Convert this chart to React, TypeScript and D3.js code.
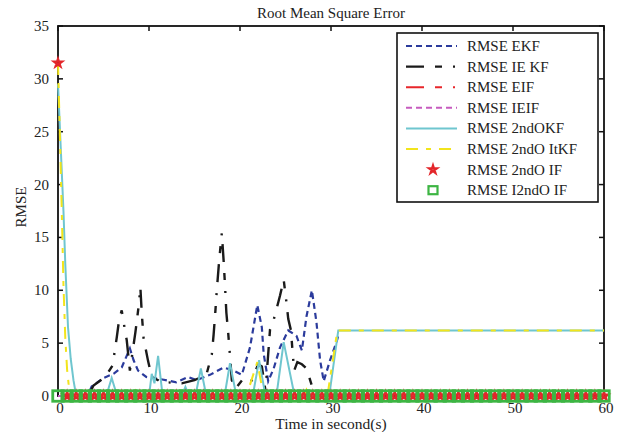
import React from 'react';
import * as d3 from 'd3';

// chart size
const width = 618;
const height = 432;

// axis ticks
const xTicks = [0, 10, 20, 30, 40, 50, 60];
const yTicks = [0, 5, 10, 15, 20, 25, 30, 35];

const legendLabels = [
  'RMSE EKF',
  'RMSE IE KF',
  'RMSE EIF',
  'RMSE IEIF',
  'RMSE 2ndOKF',
  'RMSE 2ndO ItKF',
  'RMSE 2ndO IF',
  'RMSE I2ndO IF',
];

// [time, rmse]
const ekf = [
  [3.5, 0.5], [3.7, 0.9], [5.0, 1.7], [6.1, 2.1], [7.0, 2.7], [7.9, 4.5], [8.3, 3.4],
  [8.8, 2.4], [9.7, 1.8], [11.2, 1.6], [13.0, 1.3], [14.3, 1.8], [15.2, 1.5], [16.7, 2.0],
  [18.2, 2.7], [19.3, 2.4], [20.2, 2.0], [21.1, 4.6], [21.9, 8.6], [22.4, 6.5], [22.6, 4.0],
  [23.1, 1.4], [23.7, 2.6], [24.4, 4.6], [25.3, 6.2], [26.2, 5.7], [26.8, 4.3], [27.3, 7.5],
  [27.9, 10.0], [28.4, 7.0], [28.8, 3.4], [29.2, 1.4], [29.9, 3.4], [30.6, 5.1], [30.9, 6.0],
];

const iekf = [
  [3.5, 0.3], [3.9, 1.0], [5.2, 1.8], [6.0, 2.9], [6.45, 5.5], [6.7, 7.1], [7.0, 8.1],
  [7.4, 6.0], [7.55, 5.3], [7.9, 2.4], [8.5, 6.0], [8.65, 7.0], [8.9, 8.8], [9.05, 10.3],
  [9.2, 7.9], [9.4, 5.5], [9.9, 3.3], [10.3, 1.8], [11.0, 1.5], [11.4, 1.2], [12.5, 1.3],
  [13.6, 1.2], [15.0, 1.5], [16.3, 2.0], [16.9, 3.9], [17.1, 5.8], [17.3, 8.1], [17.45, 10.0],
  [17.7, 12.7], [18.0, 15.4], [18.2, 12.8], [18.35, 10.5], [18.5, 7.9], [18.7, 6.0],
  [18.9, 3.8], [19.1, 1.5], [19.5, 0.7], [20.5, 1.8], [21.3, 1.5], [22.0, 3.0], [22.4, 2.8],
  [22.8, 0.5], [23.3, 6.3], [23.7, 7.2], [24.4, 9.5], [24.8, 11.0], [25.1, 8.9], [25.3, 7.3],
  [25.6, 6.2], [25.75, 4.5], [25.95, 2.4], [26.3, 3.2], [26.8, 3.0], [27.3, 2.6], [27.6, 1.8],
  [28.0, 0.7], [28.6, 0.6], [29.0, 0],
];

const eif = [[0, 0], [60, 0]];

const ieif = [[0, 0], [60, 0]];

const okf2 = [
  [0, 29.5], [0.3, 23.5], [0.6, 17.5], [0.8, 12.5], [1.1, 6.5], [1.4, 3.5], [1.7, 1.5],
  [2.0, 0], [5.3, 0], [5.9, 1.7], [6.5, 0], [10.0, 0], [10.3, 2.1], [10.6, 1.2], [11.0, 3.8],
  [11.5, 0], [13.6, 0], [14.0, 0.85], [14.4, 0], [15.1, 0], [15.7, 2.6], [16.3, 0],
  [18.3, 0], [18.9, 3.1], [19.6, 0], [21.4, 0], [22.1, 3.4], [22.8, 0], [24.0, 0],
  [24.8, 5.1], [26.0, 0], [29.8, 0], [30.8, 6.2], [60, 6.2],
];

const itkf2 = [
  [0, 31.5], [0.2, 25], [0.4, 18], [0.6, 10.5], [0.8, 5.5], [1.0, 2.5], [1.3, 0],
  [8.2, 0], [8.5, 0.5], [8.8, 0], [20.7, 0], [21.9, 3.2], [22.6, 0], [27.0, 0],
  [27.3, 0.6], [27.6, 0], [29.6, 0], [30.7, 6.2], [60, 6.2],
];

// marker series, one value per second 0..60
const if2 = [
  31.5, 0, 0, 0, 0, 0, 0, 0, 0, 0, 0, 0, 0, 0, 0, 0, 0, 0, 0, 0, 0,
  0, 0, 0, 0, 0, 0, 0, 0, 0, 0, 0, 0, 0, 0, 0, 0, 0, 0, 0, 0,
  0, 0, 0, 0, 0, 0, 0, 0, 0, 0, 0, 0, 0, 0, 0, 0, 0, 0, 0, 0,
];
const i2ndoif = [
  0, 0, 0, 0, 0, 0, 0, 0, 0, 0, 0, 0, 0, 0, 0, 0, 0, 0, 0, 0, 0,
  0, 0, 0, 0, 0, 0, 0, 0, 0, 0, 0, 0, 0, 0, 0, 0, 0, 0, 0, 0,
  0, 0, 0, 0, 0, 0, 0, 0, 0, 0, 0, 0, 0, 0, 0, 0, 0, 0, 0, 0,
];

const font = '"Liberation Serif", "Times New Roman", serif';

const lineStyles = [
  { data: ekf, color: '#2b3b9c', dash: '6,4', w: 2.2 },
  { data: iekf, color: '#1a1a1a', dash: '18,11,7,11,2,11', w: 2.4 },
  { data: eif, color: '#e8262b', dash: '18,11,7,11,2,11', w: 2 },
  { data: ieif, color: '#c65bbf', dash: '6,4', w: 2 },
  { data: okf2, color: '#6fc6cf', dash: null, w: 2 },
  { data: itkf2, color: '#f2e41c', dash: '12,8,5,8', w: 2 },
];

const starColor = '#e3262a';
const squareColor = '#3db543';

const App = () => {
  const x = d3.scaleLinear().domain([0, 60]).range([58, 604]);
  const y = d3.scaleLinear().domain([0, 35]).range([396, 26]);
  const line = d3.line().x(d => x(d[0])).y(d => y(d[1]));
  const times = d3.range(0, 61);
  const star = d3.symbol().type(d3.symbolStar).size(20)();
  const sq = 10.5;

  const [x0, x1] = x.range();
  const [y0, y1] = y.range();

  return (
    <svg width={width} height={height} style={{ position: 'absolute', left: 0, top: 0, background: '#fff' }}>
      <rect width={width} height={height} fill="#fff" />
      {/* title */}
      <text x={(x0 + x1) / 2} y={18} textAnchor="middle" fontFamily={font} fontSize={15} fill="#222">
        Root Mean Square Error
      </text>

      {/* frame */}
      <rect x={x0} y={y1} width={x1 - x0} height={y0 - y1} fill="none" stroke="#111" strokeWidth={1.8} />

      {/* ticks */}
      {xTicks.map(t => (
        <g key={'x' + t}>
          <line x1={x(t)} x2={x(t)} y1={y0} y2={y0 - 5} stroke="#111" strokeWidth={1.5} />
          <line x1={x(t)} x2={x(t)} y1={y1} y2={y1 + 5} stroke="#111" strokeWidth={1.5} />
          <text x={x(t) + 2} y={y0 + 17} textAnchor="middle" fontFamily={font} fontSize={15} fill="#222">
            {t}
          </text>
        </g>
      ))}
      {yTicks.map(t => (
        <g key={'y' + t}>
          <line x1={x0} x2={x0 + 5} y1={y(t)} y2={y(t)} stroke="#111" strokeWidth={1.5} />
          <line x1={x1} x2={x1 - 5} y1={y(t)} y2={y(t)} stroke="#111" strokeWidth={1.5} />
          <text x={x0 - 9} y={y(t) + 5} textAnchor="end" fontFamily={font} fontSize={15} fill="#222">
            {t}
          </text>
        </g>
      ))}

      {/* axis labels */}
      <text x={(x0 + x1) / 2} y={429} textAnchor="middle" fontFamily={font} fontSize={15.5} fill="#222">
        Time in second(s)
      </text>
      <text
        transform={`translate(26,${(y0 + y1) / 2 - 4}) rotate(-90)`}
        textAnchor="middle"
        fontFamily={font}
        fontSize={15}
        fill="#222"
      >
        RMSE
      </text>

      {/* lines */}
      {lineStyles.map((s, i) => (
        <path
          key={'l' + i}
          d={line(s.data)}
          fill="none"
          stroke={s.color}
          strokeWidth={s.w}
          strokeDasharray={s.dash || undefined}
        />
      ))}

      {/* 2ndO IF stars */}
      {times.map((t, i) => (
        <path
          key={'s' + i}
          d={star}
          transform={`translate(${x(t)},${y(if2[i])})`}
          fill="none"
          stroke={starColor}
          strokeWidth={2.2}
        />
      ))}
      {/* I2ndO IF squares */}
      {times.map((t, i) => (
        <rect
          key={'q' + i}
          x={x(t) - sq / 2}
          y={y(i2ndoif[i]) - sq / 2}
          width={sq}
          height={sq}
          fill="none"
          stroke={squareColor}
          strokeWidth={2.8}
        />
      ))}

      {/* legend */}
      <rect x={397} y={33} width={201} height={169} fill="#fff" stroke="#111" strokeWidth={1.6} />
      {legendLabels.map((label, i) => {
        const ly = 46 + i * 20.6;
        const s = lineStyles[i];
        return (
          <g key={'lg' + i}>
            {s && (
              <line
                x1={406}
                x2={457}
                y1={ly}
                y2={ly}
                stroke={s.color}
                strokeWidth={s.w}
                strokeDasharray={s.dash || undefined}
              />
            )}
            {i === 6 && (
              <path d={star} transform={`translate(433,${ly})`} fill="none" stroke={starColor} strokeWidth={2.2} />
            )}
            {i === 7 && (
              <rect x={433 - 4.5} y={ly - 4} width={9} height={8} fill="none" stroke={squareColor} strokeWidth={2.2} />
            )}
            <text x={467} y={ly + 5} fontFamily={font} fontSize={15} fill="#222">
              {label}
            </text>
          </g>
        );
      })}
    </svg>
  );
};

export default App;
